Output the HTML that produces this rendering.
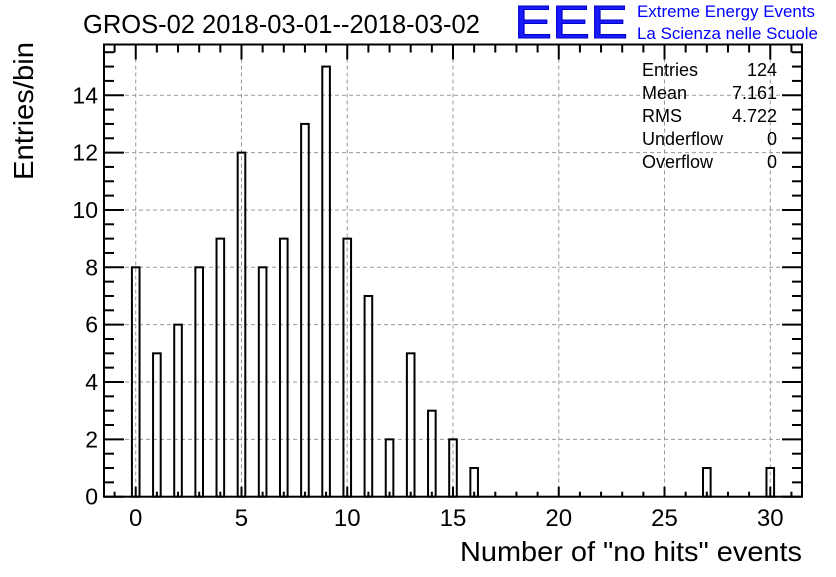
<!DOCTYPE html>
<html><head><meta charset="utf-8"><style>
body{margin:0;background:#fff;}
svg text{font-family:"Liberation Sans",Arial,sans-serif;}
</style></head><body>
<svg id="c" width="836" height="572" viewBox="0 0 836 572" xmlns="http://www.w3.org/2000/svg">
<rect width="836" height="572" fill="#fff"/>
<text x="83" y="33" font-size="25.5">GROS-02 2018-03-01--2018-03-02</text>
<text x="514" y="38" font-size="46" fill="#1a1aff" stroke="#0000cc" stroke-width="1" textLength="114" lengthAdjust="spacingAndGlyphs">EEE</text>
<text x="637" y="17" font-size="16.5" fill="#0000ff" textLength="178" lengthAdjust="spacingAndGlyphs">Extreme Energy Events</text>
<text x="637" y="39" font-size="16.5" fill="#0000ff" textLength="181" lengthAdjust="spacingAndGlyphs">La Scienza nelle Scuole</text>
<g id="grid"></g>
<g id="bars"></g>
<g id="axes"></g>
<g font-size="18">
<text x="642" y="76">Entries</text><text x="777" y="76" text-anchor="end">124</text>
<text x="642" y="99">Mean</text><text x="777" y="99" text-anchor="end">7.161</text>
<text x="642" y="122">RMS</text><text x="777" y="122" text-anchor="end">4.722</text>
<text x="642" y="145">Underflow</text><text x="777" y="145" text-anchor="end">0</text>
<text x="642" y="168">Overflow</text><text x="777" y="168" text-anchor="end">0</text>
</g>
<text x="802" y="561" font-size="27.5" text-anchor="end" textLength="342" lengthAdjust="spacingAndGlyphs">Number of "no hits" events</text>
<text transform="translate(33,180) rotate(-90)" font-size="28" textLength="138" lengthAdjust="spacingAndGlyphs">Entries/bin</text>
</svg>
<script>
const binCenters=[0,1,2,3,4,5,6,7,8,9,10,11,12,13,14,15,16,27,30];
const counts=[8,5,6,8,9,12,8,9,13,15,9,7,2,5,3,2,1,1,1];
const xTicks=[0,5,10,15,20,25,30];
const yTicks=[0,2,4,6,8,10,12,14];
const L=104,R=802,T=44.5,B=496.7,xmin=-1.5,xmax=31.5,ymin=0,ymax=15.77;
const X=v=>L+(v-xmin)/(xmax-xmin)*(R-L);
const Y=v=>B-(v-ymin)/(ymax-ymin)*(B-T);
const NS='http://www.w3.org/2000/svg';
function mk(tag,attrs,parent){const e=document.createElementNS(NS,tag);for(const k in attrs)e.setAttribute(k,attrs[k]);parent.appendChild(e);return e;}
const grid=document.getElementById('grid'),bars=document.getElementById('bars'),axes=document.getElementById('axes');
xTicks.forEach(v=>{const l=mk('line',{x1:X(v),x2:X(v),y1:T,y2:B,stroke:'#999','stroke-dasharray':'4,3'},grid);

});
yTicks.forEach(v=>{if(v===0)return;const l=mk('line',{x1:L,x2:R,y1:Y(v),y2:Y(v),stroke:'#999','stroke-dasharray':'4,3'},grid);

});
const bw=0.36;
binCenters.forEach((c,i)=>{const r=mk('rect',{x:X(c-bw/2),y:Y(counts[i]),width:X(c+bw/2)-X(c-bw/2),height:B-Y(counts[i]),fill:'none',stroke:'#000','stroke-width':2},bars);

});
const fr=mk('rect',{x:L,y:T,width:R-L,height:B-T,fill:'none',stroke:'#000','stroke-width':2},axes);


for(let v=-1;v<=31;v++){const maj=v%5===0;
mk('line',{x1:X(v),x2:X(v),y1:B,y2:B-(maj?10:5),stroke:'#000','stroke-width':2},axes);
mk('line',{x1:X(v),x2:X(v),y1:T,y2:T+(maj?15:8),stroke:'#000','stroke-width':2},axes);}
for(let v=0;v<=15.5;v+=0.5){const maj=v%2===0;
mk('line',{x1:L,x2:L+(maj?20:10),y1:Y(v),y2:Y(v),stroke:'#000','stroke-width':2},axes);
mk('line',{x1:R,x2:R-(maj?20:10),y1:Y(v),y2:Y(v),stroke:'#000','stroke-width':2},axes);}
xTicks.forEach(v=>{const t=mk('text',{x:X(v),y:526,'font-size':24,'text-anchor':'middle'},axes);t.textContent=v;

});
yTicks.forEach(v=>{const t=mk('text',{x:98,y:Y(v)+8,'font-size':23,'text-anchor':'end'},axes);t.textContent=v;

});
</script>
</body></html>
